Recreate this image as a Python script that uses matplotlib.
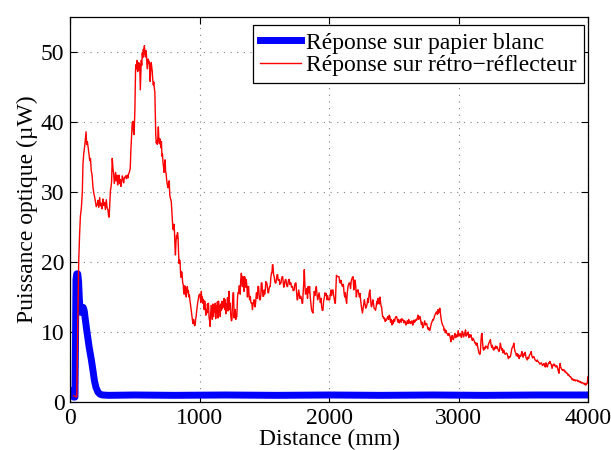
import matplotlib
matplotlib.use("Agg")
import matplotlib.pyplot as plt

plt.rcParams["font.family"] = ["Liberation Serif", "DejaVu Serif"]

# response on white paper (thick blue)
blanc_x = [0, 10, 18, 28, 38, 42, 46, 52, 60, 66, 72, 78, 86, 94, 102, 110, 118, 131, 148,
           165, 178, 188, 200, 216, 232, 250, 300, 500, 800, 1200, 1600, 2000, 2400, 2800,
           3200, 3600, 4000]
blanc_y = [1.2, 1.6, 1.2, 0.7, 0.7, 8.0, 17.5, 18.3, 18.3, 17.2, 14.8, 13.0, 12.8, 13.4, 13.5,
           13.0, 11.8, 10.0, 7.8, 6.0, 4.4, 3.1, 2.1, 1.4, 1.1, 1.0, 0.95, 1.0, 0.95, 1.0, 0.95,
           1.0, 0.95, 1.0, 0.95, 1.0, 1.0]

# response on retro-reflector (thin red)
retro_x = [
    28, 40, 52, 58, 63, 67, 74, 80, 88, 95, 100, 106, 113, 120, 124, 128, 134, 139, 146, 152,
    158, 164, 170, 177, 184, 190, 197, 203, 210, 216, 222, 229, 235, 242, 248, 254, 260, 267,
    273, 280, 286, 293, 298, 301, 305, 308, 312, 316, 321, 326, 331, 337, 342, 347, 352, 357,
    362, 368, 373, 378, 383, 388, 393, 398, 404, 409, 414, 419, 424, 429, 435, 442, 447, 452,
    458, 465, 470, 475, 480, 486, 490, 495, 501, 506, 510, 514, 518, 522, 526, 530, 534, 538,
    543, 547, 550, 554, 558, 562, 566, 570, 574, 578, 582, 586, 590, 594, 598, 602, 607, 611,
    615, 619, 623, 627, 631, 635, 639, 643, 647, 651, 655, 659, 662, 666, 670, 674, 678, 682,
    686, 690, 694, 698, 702, 706, 710, 714, 718, 722, 726, 730, 734, 738, 742, 746, 750, 754,
    758, 762, 766, 770, 774, 778, 782, 786, 790, 794, 798, 802, 806, 810, 814, 818, 822, 826,
    830, 834, 838, 842, 846, 850, 854, 858, 862, 866, 870, 874, 878, 882, 886, 890, 894, 898,
    902, 906, 910, 914, 918, 922, 926, 930, 934, 938, 942, 946, 950, 954, 958, 962, 966, 970,
    974, 978, 982, 986, 990, 995, 1000, 1005, 1010, 1014, 1018, 1022, 1026, 1031, 1036, 1040,
    1044, 1049, 1053, 1057, 1061, 1065, 1069, 1074, 1078, 1082, 1086, 1090, 1095, 1099, 1103,
    1108, 1112, 1116, 1121, 1125, 1130, 1134, 1138, 1143, 1147, 1151, 1156, 1160, 1164, 1169,
    1173, 1177, 1181, 1185, 1190, 1194, 1198, 1203, 1207, 1211, 1216, 1220, 1224, 1228, 1233,
    1237, 1241, 1246, 1250, 1254, 1259, 1263, 1267, 1272, 1276, 1280, 1284, 1288, 1293, 1297,
    1301, 1306, 1310, 1314, 1318, 1323, 1327, 1331, 1336, 1340, 1344, 1348, 1353, 1357, 1361,
    1366, 1370, 1374, 1379, 1383, 1387, 1392, 1396, 1400, 1404, 1409, 1413, 1417, 1421, 1426,
    1430, 1434, 1439, 1443, 1447, 1451, 1456, 1460, 1464, 1469, 1473, 1477, 1482, 1486, 1490,
    1495, 1499, 1503, 1508, 1512, 1516, 1520, 1524, 1529, 1533, 1537, 1541, 1546, 1550, 1555,
    1559, 1563, 1567, 1572, 1577, 1581, 1586, 1590, 1594, 1599, 1603, 1607, 1612, 1616, 1620,
    1625, 1629, 1633, 1638, 1642, 1646, 1650, 1654, 1659, 1663, 1667, 1672, 1676, 1680, 1685,
    1689, 1693, 1698, 1702, 1706, 1710, 1715, 1719, 1723, 1728, 1732, 1736, 1741, 1745, 1749,
    1754, 1757, 1762, 1766, 1770, 1775, 1779, 1783, 1788, 1792, 1796, 1800, 1805, 1809, 1813,
    1818, 1824, 1829, 1834, 1839, 1845, 1850, 1855, 1860, 1865, 1870, 1876, 1881, 1886, 1891,
    1897, 1902, 1907, 1912, 1917, 1923, 1928, 1933, 1938, 1943, 1948, 1953, 1958, 1964, 1969,
    1974, 1979, 1984, 1989, 1995, 2000, 2005, 2010, 2015, 2020, 2026, 2031, 2036, 2041, 2046,
    2049, 2053, 2057, 2062, 2067, 2072, 2077, 2082, 2087, 2092, 2096, 2101, 2106, 2111, 2116,
    2121, 2126, 2131, 2136, 2141, 2146, 2151, 2156, 2161, 2166, 2171, 2176, 2181, 2186, 2191,
    2196, 2201, 2206, 2211, 2216, 2221, 2225, 2230, 2235, 2240, 2245, 2250, 2255, 2258, 2263,
    2268, 2273, 2278, 2283, 2289, 2294, 2299, 2304, 2309, 2315, 2320, 2325, 2328, 2333, 2338,
    2343, 2348, 2354, 2359, 2364, 2369, 2374, 2379, 2384, 2389, 2393, 2398, 2403, 2406, 2410,
    2414, 2418, 2424, 2429, 2434, 2439, 2444, 2449, 2455, 2460, 2465, 2470, 2475, 2480, 2486,
    2491, 2496, 2501, 2506, 2511, 2517, 2522, 2527, 2532, 2537, 2543, 2548, 2553, 2558, 2563,
    2569, 2574, 2579, 2584, 2589, 2594, 2599, 2604, 2610, 2615, 2620, 2625, 2630, 2636, 2641,
    2646, 2651, 2656, 2661, 2667, 2672, 2677, 2682, 2687, 2692, 2698, 2703, 2708, 2713, 2718,
    2723, 2729, 2734, 2739, 2744, 2749, 2754, 2759, 2764, 2770, 2775, 2780, 2785, 2790, 2796,
    2801, 2806, 2811, 2817, 2822, 2827, 2832, 2837, 2842, 2845, 2850, 2855, 2858, 2863, 2868,
    2873, 2879, 2884, 2889, 2894, 2899, 2904, 2910, 2915, 2920, 2925, 2930, 2935, 2941, 2946,
    2951, 2956, 2961, 2966, 2972, 2977, 2982, 2987, 2992, 2997, 3003, 3008, 3013, 3018, 3023,
    3028, 3034, 3039, 3044, 3049, 3054, 3059, 3065, 3070, 3075, 3080, 3086, 3091, 3096, 3101,
    3106, 3112, 3117, 3122, 3127, 3132, 3137, 3143, 3148, 3153, 3158, 3163, 3168, 3173, 3177,
    3181, 3186, 3190, 3194, 3199, 3204, 3210, 3215, 3220, 3225, 3230, 3236, 3241, 3246, 3251,
    3256, 3261, 3266, 3272, 3277, 3282, 3287, 3292, 3298, 3303, 3308, 3313, 3318, 3323, 3329,
    3334, 3339, 3344, 3349, 3354, 3360, 3365, 3370, 3375, 3380, 3385, 3391, 3396, 3401, 3406,
    3411, 3416, 3422, 3427, 3432, 3437, 3442, 3447, 3453, 3458, 3463, 3468, 3473, 3479, 3484,
    3489, 3494, 3499, 3504, 3510, 3515, 3520, 3525, 3530, 3535, 3541, 3546, 3551, 3556, 3561,
    3566, 3572, 3577, 3582, 3587, 3592, 3597, 3603, 3608, 3613, 3618, 3623, 3628, 3634, 3639,
    3644, 3649, 3654, 3660, 3665, 3670, 3675, 3680, 3686, 3691, 3696, 3701, 3706, 3711, 3716,
    3722, 3727, 3732, 3737, 3742, 3747, 3752, 3758, 3763, 3768, 3773, 3776, 3780, 3784, 3789,
    3794, 3799, 3804, 3809, 3815, 3820, 3825, 3830, 3835, 3841, 3846, 3851, 3856, 3861, 3866,
    3871, 3877, 3882, 3887, 3892, 3897, 3903, 3908, 3913, 3918, 3923, 3929, 3934, 3939, 3944,
    3949, 3955, 3960, 3965, 3970, 3975, 3980, 3983, 3988, 3992, 3995, 3998, 4000]
retro_y = [
    0.9, 0.8, 0.7, 8.0, 15.0, 20.0, 24.0, 26.5, 27.8, 30.0, 34.0, 35.5, 36.5, 37.8, 38.6, 36.8,
    37.2, 36.5, 35.5, 34.5, 34.8, 33.0, 32.5, 30.7, 29.8, 29.3, 28.5, 27.9, 28.2, 28.8, 27.8,
    29.2, 28.0, 28.4, 27.6, 29.0, 28.1, 28.5, 27.5, 28.9, 27.8, 27.4, 26.6, 26.4, 27.5, 28.8,
    30.2, 30.6, 31.5, 34.8, 33.5, 32.6, 31.2, 32.0, 32.8, 31.6, 32.4, 31.0, 32.0, 32.4, 31.2,
    31.8, 30.8, 31.4, 32.3, 31.9, 31.3, 32.0, 32.1, 32.3, 31.9, 32.4, 32.0, 32.6, 32.8, 33.4,
    36.0, 38.0, 39.8, 40.1, 38.6, 38.2, 41.7, 47.5, 48.2, 47.6, 48.8, 47.2, 48.0, 48.5, 47.4,
    48.3, 44.6, 47.0, 48.8, 48.1, 49.9, 49.2, 50.4, 49.7, 50.9, 50.1, 49.3, 50.2, 49.6, 48.2,
    47.6, 49.0, 48.4, 48.7, 47.9, 45.8, 47.6, 48.5, 47.9, 47.2, 46.0, 45.3, 45.7, 44.8, 44.3,
    41.0, 38.2, 37.0, 37.3, 36.8, 37.8, 39.3, 37.5, 36.9, 37.6, 37.0, 36.3, 37.2, 35.1, 35.4,
    34.2, 33.6, 32.8, 34.0, 34.6, 33.0, 32.6, 31.8, 31.2, 30.8, 30.6, 31.4, 31.6, 29.6, 29.2,
    28.9, 28.6, 27.4, 26.4, 24.8, 24.6, 25.4, 24.6, 22.4, 21.0, 22.8, 23.8, 23.4, 24.2, 23.6,
    21.4, 19.8, 20.3, 20.0, 18.2, 17.8, 18.6, 18.1, 17.0, 16.8, 15.6, 15.4, 16.6, 16.2, 15.2,
    15.0, 16.2, 16.5, 15.6, 15.9, 15.0, 15.3, 14.5, 14.0, 13.4, 12.8, 12.1, 11.6, 11.2, 11.8,
    11.3, 10.9, 11.0, 11.8, 12.2, 13.0, 13.6, 14.2, 14.6, 15.2, 15.4, 15.1, 14.2, 15.8, 14.4,
    15.0, 14.1, 14.6, 13.2, 14.4, 13.6, 12.4, 13.2, 12.7, 14.0, 13.4, 14.1, 12.0, 11.6, 10.8,
    12.6, 13.8, 13.6, 11.8, 14.0, 12.2, 13.9, 12.8, 14.1, 11.9, 13.7, 12.7, 14.3, 12.0, 14.4,
    12.9, 13.8, 12.2, 14.0, 13.1, 14.4, 13.4, 14.2, 13.6, 14.8, 13.2, 14.6, 12.6, 14.0, 13.6,
    14.9, 13.0, 14.6, 15.8, 13.2, 14.1, 12.4, 11.6, 11.7, 13.8, 15.6, 15.6, 12.0, 13.2, 13.2,
    11.8, 12.2, 12.2, 14.8, 15.6, 15.6, 16.6, 16.5, 15.4, 17.4, 18.4, 17.6, 16.5, 17.9, 16.5,
    15.8, 17.9, 17.5, 16.4, 17.5, 16.5, 15.0, 16.4, 16.5, 15.1, 14.6, 15.1, 14.3, 14.1, 14.1,
    13.2, 14.2, 14.1, 14.6, 13.6, 13.6, 14.4, 15.6, 15.6, 14.8, 16.5, 16.5, 15.4, 14.6, 14.6,
    15.2, 17.0, 17.0, 15.8, 15.1, 15.1, 16.0, 15.4, 16.0, 17.2, 17.0, 17.0, 16.4, 15.6, 15.6,
    16.2, 16.5, 16.5, 17.6, 18.4, 18.4, 19.6, 19.6, 18.2, 17.9, 17.2, 17.0, 17.0, 17.6, 18.2,
    18.2, 17.4, 17.5, 17.5, 16.8, 17.0, 17.0, 17.6, 17.9, 17.9, 17.1, 16.4, 16.5, 17.2, 17.5,
    17.5, 16.8, 16.5, 16.5, 17.2, 17.5, 17.5, 16.8, 17.0, 17.0, 16.4, 16.5, 16.5, 15.9, 16.0,
    16.0, 16.8, 17.0, 17.0, 15.8, 14.6, 14.6, 15.4, 16.0, 15.5, 14.8, 15.1, 15.1, 14.6, 14.1,
    14.1, 15.4, 17.2, 18.9, 17.0, 15.4, 15.5, 16.2, 14.8, 16.5, 15.6, 16.5, 15.0, 14.1, 13.2,
    12.9, 12.7, 14.6, 15.8, 15.2, 16.0, 16.5, 15.4, 14.6, 15.0, 15.6, 15.0, 14.2, 14.8, 13.6,
    13.1, 13.1, 14.4, 14.9, 15.6, 15.3, 15.5, 14.6, 15.2, 14.6, 14.6, 14.6, 15.4, 16.0, 15.2,
    16.0, 16.0, 15.2, 14.6, 14.1, 14.1, 16.0, 18.1, 18.0, 17.9, 17.9, 17.9, 17.2, 17.0, 17.4,
    17.0, 16.6, 16.5, 16.8, 15.6, 15.0, 15.6, 14.6, 14.1, 15.6, 16.4, 16.8, 17.0, 17.0, 16.2,
    17.2, 17.6, 17.8, 17.9, 16.0, 17.4, 17.4, 16.6, 15.0, 15.8, 16.0, 16.0, 15.4, 15.0, 15.5,
    14.4, 13.6, 13.0, 12.7, 13.4, 14.0, 14.6, 14.0, 13.4, 13.6, 14.0, 14.8, 14.2, 15.4, 16.0,
    15.0, 13.8, 13.6, 14.0, 14.6, 14.1, 13.4, 13.3, 13.1, 13.6, 14.4, 14.0, 14.8, 14.2, 14.0,
    15.0, 14.2, 13.6, 13.6, 12.8, 12.2, 12.2, 11.9, 12.0, 11.5, 11.8, 11.7, 12.0, 12.2, 11.8,
    12.4, 12.2, 11.4, 11.8, 11.0, 11.6, 11.2, 11.8, 11.5, 12.0, 12.2, 12.2, 11.8, 11.4, 11.8,
    11.3, 11.5, 11.8, 11.4, 11.9, 11.7, 11.7, 11.3, 11.6, 11.4, 11.0, 11.2, 11.6, 11.2, 11.8,
    11.3, 11.5, 11.2, 11.4, 11.6, 11.0, 11.2, 11.7, 11.4, 11.6, 11.8, 11.7, 12.0, 12.4, 11.8,
    12.2, 12.2, 11.6, 11.1, 11.4, 10.6, 10.8, 11.2, 11.6, 11.0, 11.2, 11.2, 10.8, 10.4, 10.6,
    10.2, 10.3, 10.8, 11.2, 11.5, 11.8, 11.7, 12.0, 12.4, 12.6, 12.8, 12.9, 12.5, 13.2, 12.7,
    12.9, 13.4, 13.1, 12.2, 11.6, 11.2, 10.9, 10.8, 10.2, 10.4, 9.9, 10.2, 9.8, 9.7, 9.5, 9.8,
    9.6, 9.3, 8.6, 9.2, 9.5, 9.0, 8.9, 9.4, 9.8, 9.2, 9.6, 9.3, 9.4, 10.2, 9.4, 9.6, 9.8, 9.4,
    9.2, 10.1, 9.9, 9.3, 9.6, 9.8, 10.3, 9.4, 9.8, 9.6, 10.0, 9.2, 9.6, 9.3, 9.6, 9.2, 8.8,
    9.1, 8.9, 8.7, 8.4, 8.5, 8.1, 8.4, 7.9, 7.4, 7.0, 6.8, 6.9, 8.6, 9.6, 9.8, 8.4, 7.6, 7.4,
    7.8, 7.6, 8.0, 7.9, 7.9, 7.6, 8.2, 8.5, 8.6, 8.9, 8.2, 7.8, 8.1, 7.6, 7.4, 7.8, 7.6, 8.0,
    7.7, 7.9, 7.6, 7.4, 7.2, 7.6, 8.4, 7.8, 7.4, 7.6, 7.0, 7.4, 7.1, 6.8, 6.9, 7.0, 6.9, 6.6,
    6.2, 6.5, 6.4, 6.5, 7.0, 7.6, 7.8, 8.0, 8.4, 7.6, 7.2, 7.0, 6.6, 6.9, 6.5, 6.8, 6.2, 6.6,
    6.5, 6.8, 7.2, 6.6, 6.4, 6.9, 6.7, 7.1, 6.4, 6.2, 6.0, 6.4, 6.2, 6.6, 6.8, 6.9, 7.2, 6.6,
    6.3, 6.4, 6.5, 6.2, 6.0, 5.9, 5.8, 6.0, 5.8, 5.7, 5.6, 5.4, 5.5, 5.6, 5.4, 5.2, 5.3, 5.5,
    5.2, 5.0, 5.6, 5.2, 5.0, 5.4, 5.6, 5.5, 5.8, 5.5, 5.4, 4.8, 5.1, 5.4, 5.3, 5.4, 5.1, 5.0,
    5.2, 5.0, 4.6, 4.2, 4.1, 5.0, 5.5, 5.0, 4.8, 4.6, 4.5, 4.6, 4.6, 4.3, 4.4, 4.2, 4.1, 4.1,
    3.8, 3.9, 3.7, 3.6, 3.6, 3.4, 3.2, 3.3, 3.1, 3.1, 3.2, 3.0, 3.1, 3.1, 3.1, 2.9, 3.0, 2.9,
    2.8, 2.9, 2.7, 2.8, 2.7, 2.6, 2.7, 2.5, 2.6, 2.4, 2.6, 2.7, 2.7, 3.6, 3.4]

x_ticks = [0, 1000, 2000, 3000, 4000]
y_ticks = [0, 10, 20, 30, 40, 50]

fig = plt.figure(figsize=(6.11, 4.5), dpi=100)
ax = fig.add_axes([0.1146, 0.1067, 0.8478, 0.8555])

ax.plot(blanc_x, blanc_y, color="#0000ff", linewidth=5.0,
        solid_joinstyle="round", label="Réponse sur papier blanc")
ax.plot(retro_x, retro_y, color="#ff0000", linewidth=1.0,
        label="Réponse sur rétro\u2212réflecteur")

ax.set_xlim(0, 4000)
ax.set_ylim(0, 55)
ax.set_xticks(x_ticks)
ax.set_yticks(y_ticks)
ax.tick_params(direction="in", top=True, right=True, labelsize=17,
               length=5, width=0.8, pad=4)
ax.grid(True, linestyle=(0, (1, 5)), color="0.5", linewidth=0.8)
for s in ax.spines.values():
    s.set_linewidth(0.9)

ax.set_xlabel("Distance (mm)", fontsize=17, labelpad=0)
ax.set_ylabel("Puissance optique (µW)", fontsize=17, labelpad=2)

leg = ax.legend(loc="upper right", bbox_to_anchor=(1 - 4 / 518, 1 - 8 / 385),
                borderaxespad=0, fontsize=17, fancybox=False, framealpha=1,
                edgecolor="black", handlelength=1.7, handletextpad=0.25,
                labelspacing=0.05, borderpad=0.3)
leg.get_frame().set_linewidth(0.9)

fig.savefig("out.png", dpi=100)
